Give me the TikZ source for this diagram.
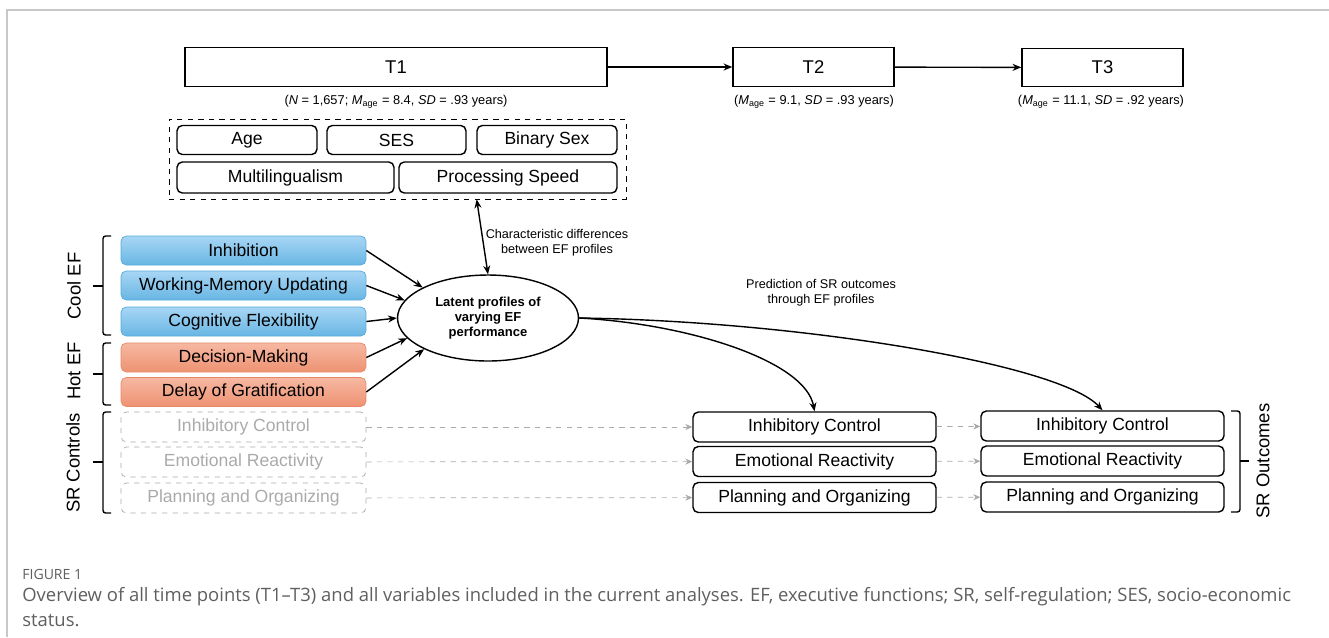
\documentclass[tikz,border=0pt]{standalone}
\usepackage{fontspec}
\setmainfont{Liberation Sans}
\newfontfamily\capfont{Open Sans}
\usetikzlibrary{shapes.geometric, arrows.meta}
\definecolor{coolline}{RGB}{86,170,220}
\definecolor{cooltop}{RGB}{168,214,244}
\definecolor{coolbot}{RGB}{104,182,228}
\definecolor{hotline}{RGB}{232,136,104}
\definecolor{hottop}{RGB}{246,184,162}
\definecolor{hotbot}{RGB}{238,146,114}
\definecolor{ctrlgray}{RGB}{170,170,170}
\definecolor{framegray}{RGB}{200,200,200}
\definecolor{capgray}{RGB}{95,95,95}
\begin{document}
\begin{tikzpicture}[x=0.02cm, y=-0.02cm,
	tbox/.style={draw, thick, minimum height=0.77cm, inner sep=0pt, font=\fontsize{10.5}{12}\selectfont},
	sub/.style={font=\fontsize{7.3}{9}\selectfont},
	cov/.style={draw, thick, rounded corners=3pt, minimum height=0.58cm, inner sep=0pt, font=\fontsize{10}{12}\selectfont},
	ef/.style={draw, rounded corners=3pt, minimum width=4.9cm, minimum height=0.58cm, inner sep=0pt, font=\fontsize{10}{12}\selectfont},
	cool/.style={ef, draw=coolline, top color=cooltop, bottom color=coolbot},
	hot/.style={ef, draw=hotline, top color=hottop, bottom color=hotbot},
	ctrl/.style={ef, draw=ctrlgray, dashed, text=ctrlgray, minimum height=0.6cm},
	outc/.style={draw, thick, rounded corners=3pt, minimum width=4.86cm, minimum height=0.6cm, inner sep=0pt, font=\fontsize{10}{12}\selectfont},
	side/.style={rotate=90, font=\fontsize{10.5}{12}\selectfont},
	note/.style={align=center, font=\fontsize{7.2}{8.6}\selectfont},
	arr/.style={thick, -{Stealth[length=5pt, width=4pt]}},
	garr/.style={ctrlgray, dashed, -{Stealth[length=4pt, width=3.5pt]}},
	bracket/.style={thick, rounded corners=1.5pt}]
		\useasboundingbox (0, 0) rectangle (1329, 637);
		%%%%%%%%%%%%%
		\draw[framegray, line width=1pt] (7, 637) -- (7, 10) -- (1329, 10);
		%%%%%%%%%%%%%
		\node[tbox, minimum width=8.44cm] (t1) at (396, 67) {T1};
		\node[tbox, minimum width=3.22cm] (t2) at (813.5, 67) {T2};
		\node[tbox, minimum width=3.22cm] (t3) at (1102.5, 67.5) {T3};
		\node[sub] (s1) at (396, 102) {(\textit{N} = 1,657; \textit{M}\textsubscript{age} = 8.4, \textit{SD} = .93 years)};
		\node[sub] (s2) at (814, 102) {(\textit{M}\textsubscript{age} = 9.1, \textit{SD} = .93 years)};
		\node[sub] (s3) at (1101, 102) {(\textit{M}\textsubscript{age} = 11.1, \textit{SD} = .92 years)};
		\draw[arr] (t1) to (t2);
		\draw[arr] (t2) to (t3);
		%%%%%%%%%%%%%
		\node[draw, dashed, minimum width=9.14cm, minimum height=1.6cm, inner sep=0pt] (covs) at (397.5, 159) {};
		\node[cov, minimum width=2.8cm] (age) at (247, 140) {Age};
		\node[cov, minimum width=2.78cm] (ses) at (396.5, 140) {SES};
		\node[cov, minimum width=2.8cm] (sex) at (547, 140) {Binary Sex};
		\node[cov, minimum width=4.34cm, minimum height=0.62cm] (ml) at (285.5, 177.5) {Multilingualism};
		\node[cov, minimum width=4.36cm, minimum height=0.62cm] (ps) at (508, 177.5) {Processing Speed};
		%%%%%%%%%%%%%
		\node[cool] (inh) at (243.5, 250.5) {Inhibition};
		\node[cool] (wmu) at (243.5, 285.5) {Working-Memory Updating};
		\node[cool] (cf) at (243.5, 321.5) {Cognitive Flexibility};
		\node[hot] (dm) at (243.5, 357.5) {Decision-Making};
		\node[hot] (dog) at (243.5, 392) {Delay of Gratification};
		\node[ctrl] (c1) at (243.5, 427) {Inhibitory Control};
		\node[ctrl] (c2) at (243.5, 462) {Emotional Reactivity};
		\node[ctrl] (c3) at (243.5, 498) {Planning and Organizing};
		%%%%%%%%%%%%%
		\node[draw, thick, ellipse, minimum width=3.62cm, minimum height=1.72cm, inner sep=0pt, align=center, font=\bfseries\fontsize{7.4}{8.6}\selectfont] (lp) at (488, 318) {Latent profiles of\\varying EF\\performance};
		%%%%%%%%%%%%%
		\node[outc] (o1) at (814.5, 427) {Inhibitory Control};
		\node[outc] (o2) at (814.5, 461.5) {Emotional Reactivity};
		\node[outc] (o3) at (814.5, 497.5) {Planning and Organizing};
		\node[outc] (p1) at (1102.5, 426) {Inhibitory Control};
		\node[outc] (p2) at (1102.5, 461) {Emotional Reactivity};
		\node[outc] (p3) at (1102.5, 497) {Planning and Organizing};
		%%%%%%%%%%%%%
		\node[note] (n1) at (557, 242.5) {Characteristic differences\\between EF profiles};
		\node[note] (n2) at (821, 293) {Prediction of SR outcomes\\through EF profiles};
		%%%%%%%%%%%%%
		\draw[arr] (inh.east) to (lp.155);
		\draw[arr] (wmu.east) to (lp.168);
		\draw[arr] (cf.east) to (lp.west);
		\draw[arr] (dm.east) to (lp.194);
		\draw[arr] (dog.east) to (lp.206);
		\draw[thick, {Stealth[length=5pt, width=4pt]}-{Stealth[length=5pt, width=4pt]}] (covs.-27.3) to (lp.north);
		\draw[arr] (lp.east) .. controls +(111, 6) and +(-9, -50) .. (o1.north);
		\draw[arr] (lp.east) .. controls +(221, 3) and +(-42, -46) .. (p1.north);
		\draw[garr] (c1) to (o1); \draw[garr] (c2) to (o2); \draw[garr] (c3) to (o3);
		\draw[garr] (o1) to (p1); \draw[garr] (o2) to (p2); \draw[garr] (o3) to (p3);
		%%%%%%%%%%%%%
		\draw[bracket] (111, 236) -- (103, 236) -- (103, 335) -- (111, 335); \draw[thick] (103, 286) -- (93, 286);
		\draw[bracket] (111, 343) -- (103, 343) -- (103, 405) -- (111, 405); \draw[thick] (103, 374) -- (93, 374);
		\draw[bracket] (111, 412) -- (103, 412) -- (103, 513) -- (111, 513); \draw[thick] (103, 462) -- (93, 462);
		\draw[bracket] (1231, 411) -- (1240, 411) -- (1240, 512) -- (1231, 512); \draw[thick] (1240, 461) -- (1249, 461);
		\node[side] (lcool) at (74, 286) {Cool EF};
		\node[side] (lhot) at (74, 371) {Hot EF};
		\node[side] (lsr) at (73, 463) {SR Controls};
		\node[side] (lout) at (1263, 461) {SR Outcomes};
		%%%%%%%%%%%%%
		\node[anchor=west, inner sep=0pt, text=capgray, font=\capfont\fontsize{8}{10}\selectfont] (fig) at (22, 574) {FIGURE 1};
		\node[anchor=west, inner sep=0pt, text=capgray, font=\capfont\fontsize{10.5}{12}\selectfont] (cap1) at (22, 597) {Overview of all time points (T1–T3) and all variables included in the current analyses. EF, executive functions; SR, self-regulation; SES, socio-economic};
		\node[anchor=west, inner sep=0pt, text=capgray, font=\capfont\fontsize{10.5}{12}\selectfont] (cap2) at (22, 621) {status.};
\end{tikzpicture}
\end{document}
